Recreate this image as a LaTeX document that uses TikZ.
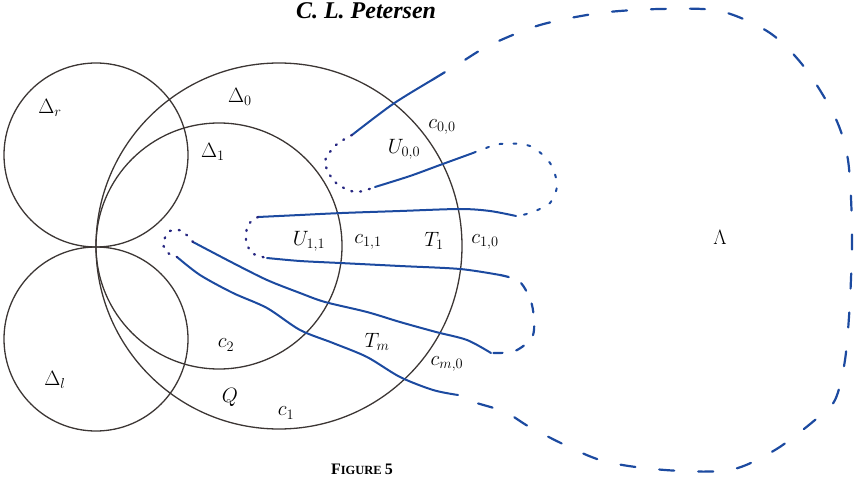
\documentclass[tikz,border=0pt]{standalone}
\usepackage{amsmath,amssymb}
\usepackage{fontspec}
\setmainfont{Liberation Serif}
\usetikzlibrary{positioning}

\definecolor{circgray}{RGB}{60,54,52}
\definecolor{curveblue}{RGB}{28,74,160}
\definecolor{dotblue}{RGB}{40,40,130}

\begin{document}
\begin{tikzpicture}[x=1pt, y=-1pt,
	every node/.style={font=\fontsize{21}{24}\selectfont, inner sep=0pt},
	disc/.style={draw=circgray, line width=1.3pt},
	solidarc/.style={draw=curveblue, line width=2pt, line cap=round, line join=round},
	dotarc/.style={draw=dotblue, line width=2.4pt, line cap=round, dash pattern=on 1pt off 8pt},
	shortarc/.style={draw=curveblue, line width=2pt, line cap=round, dash pattern=on 3pt off 11pt},
	midarc/.style={draw=curveblue, line width=2.2pt, line cap=round, dash pattern=on 9pt off 14pt},
	longarc/.style={draw=curveblue, line width=2.2pt, line cap=round, dash pattern=on 15pt off 24pt}]
	\useasboundingbox (0,0) rectangle (858,478);
	\clip (0,0) rectangle (858,478);
	
	%---------------- CIRCLES ----------------
	\coordinate (P) at (96,247);
	\coordinate (Or) at (96,155);
	\coordinate (Ol) at (96,339);
	\coordinate (O0) at (279,246);
	\coordinate (O1) at (219,246);
	\draw[disc] (Or) circle[radius=92];
	\draw[disc] (Ol) circle[radius=92];
	\draw[disc] (O0) circle[radius=183];
	\draw[disc] (O1) circle[radius=123];
	
	%---------------- BLUE CURVES ----------------
	% solid pieces
	\draw[solidarc] plot[smooth] coordinates {(352,135) (393,104) (432,80)};
	\draw[solidarc] plot[smooth] coordinates {(375,187) (410,176) (440,165) (473,153)};
	\draw[solidarc] plot[smooth] coordinates {(258,217) (300,215) (342,213) (400,211) (460,209) (490,211) (516,216)};
	\draw[solidarc] plot[smooth] coordinates {(267,258) (300,261) (340,263) (400,266) (460,269) (500,275)};
	\draw[solidarc] plot[smooth] coordinates {(193,242) (233,263) (267,280) (300,293) (325,302) (367,312) (400,322) (436,332) (467,340) (491,353)};
	\draw[solidarc] plot[smooth] coordinates {(177,257) (200,275) (233,293) (267,308) (300,330) (333,343) (367,357) (400,377) (433,390) (458,395)};
	
	% dotted turns on the left
	\draw[dotarc] plot[smooth] coordinates {(352,135) (336,145) (325,162) (335,182) (355,192) (375,187)};
	\draw[dotarc] plot[smooth] coordinates {(258,217) (248,225) (246,240) (252,253) (267,258)};
	\draw[dotarc] plot[smooth] coordinates {(193,242) (182,231) (170,231) (163,243) (168,253) (177,257)};
	
	% dashed loops on the right
	\draw[shortarc] plot[smooth] coordinates {(473,153) (500,144) (530,146) (550,163) (557,185) (550,203) (530,213) (516,216)};
	\draw[midarc] plot[smooth] coordinates {(500,275) (520,282) (532,305) (533,335) (515,351) (491,353)};
	\draw[longarc] plot[smooth] coordinates {(432,80) (460,63) (490,45) (540,25) (600,13) (660,9) (720,11) (770,33) (805,68) (835,117) (848,160) (852,230) (850,300) (845,360) (835,400) (815,420) (775,450) (730,470) (665,470) (600,460) (535,430) (505,412) (470,401) (458,395)};
	
	%---------------- LABELS ----------------
	\node (title) at (366,11) {\fontsize{24}{26}\selectfont\bfseries\itshape C. L. Petersen};
	\node[anchor=base] (fig) at (362,474) {\bfseries\fontsize{16}{18}\selectfont F\fontsize{12.5}{15}\selectfont IGURE \fontsize{16}{18}\selectfont 5};
	
	\node (dr) at (50,108) {$\Delta_r$};
	\node (d0) at (240,97) {$\Delta_0$};
	\node (d1) at (213,152) {$\Delta_1$};
	\node (dl) at (55,380) {$\Delta_l$};
	\node (u00) at (404,149) {$U_{0,0}$};
	\node (c00) at (442,127) {$c_{0,0}$};
	\node (u11) at (309,241) {$U_{1,1}$};
	\node (c11) at (368,242) {$c_{1,1}$};
	\node (t1) at (434,241) {$T_1$};
	\node (c10) at (485,242) {$c_{1,0}$};
	\node (lam) at (720,237) {$\Lambda$};
	\node (c2) at (226,345) {$c_2$};
	\node (tm) at (377,342) {$T_m$};
	\node (cm0) at (447,364) {$c_{m,0}$};
	\node (q) at (230,397) {$Q$};
	\node (c1) at (286,413) {$c_1$};
\end{tikzpicture}
\end{document}
